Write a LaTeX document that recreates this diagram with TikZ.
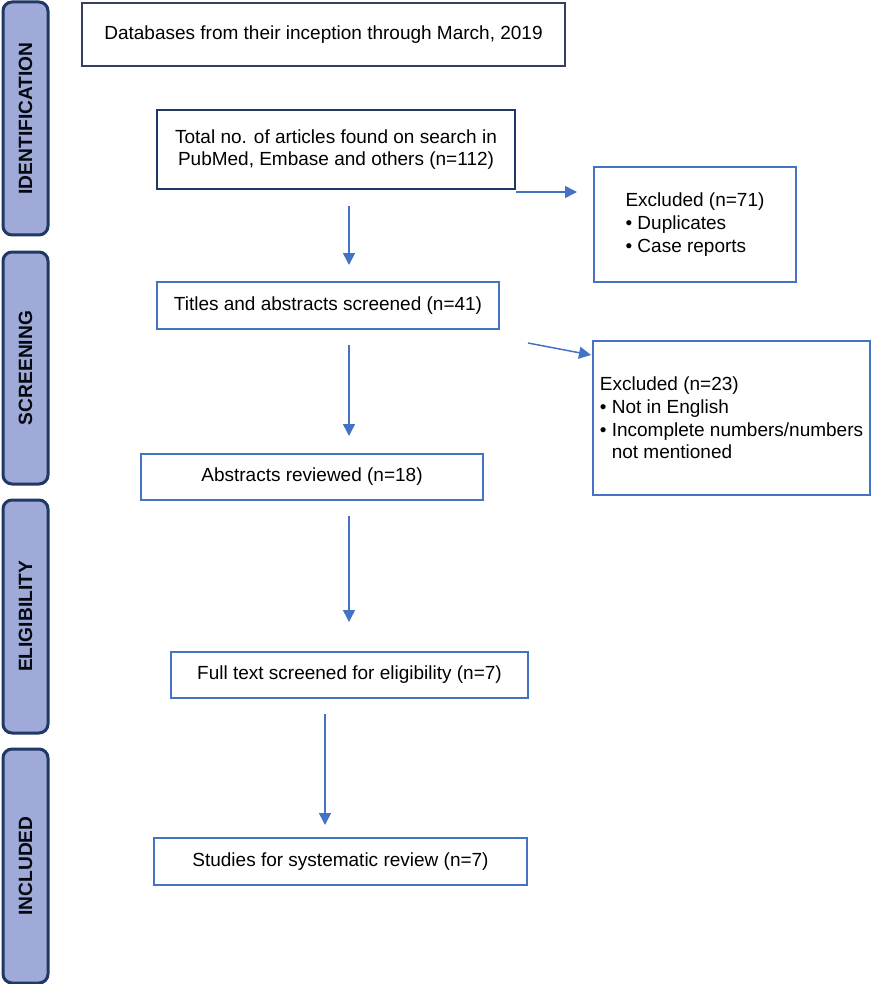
\documentclass[tikz,border=0pt]{standalone}
\usepackage{fontspec}
\setmainfont{Liberation Sans}
\usetikzlibrary{arrows.meta}
\definecolor{navy}{HTML}{203864}
\definecolor{slate}{HTML}{34405E}
\definecolor{linkblue}{HTML}{4472C4}
\definecolor{barfill}{HTML}{9FAAD9}
\begin{document}
\begin{tikzpicture}[x=0.5pt,y=-0.5pt,
  every node/.style={font=\fontsize{9.5}{11.3}\selectfont, inner sep=0pt},
  phase/.style={draw=navy, fill=barfill, line width=1.5pt, rounded corners=4.5pt, rotate=90, minimum height=22.5pt, font=\fontsize{9.6}{11.3}\selectfont\bfseries, text=black!85!navy},
  box/.style={draw=linkblue, line width=1pt, align=center},
  arr/.style={draw=linkblue, line width=0.75pt, -{Triangle[length=6pt,width=6pt]}}]
\useasboundingbox (0,0) rectangle (871,984);
\node[phase, minimum width=116.5pt] (ident) at (25.5,118.5) {IDENTIFICATION};
\node[phase, minimum width=116pt] (screen) at (25.5,368) {SCREENING};
\node[phase, minimum width=116.5pt] (elig) at (25.5,616.5) {ELIGIBILITY};
\node[phase, minimum width=117pt] (incl) at (25.5,866) {INCLUDED};
\node[box, draw=slate, line width=0.8pt, minimum width=241.5pt, minimum height=31.5pt] (dbase) at (323.5,34.5) {Databases from their inception through March, 2019};
\node[box, draw=navy, minimum width=179pt, minimum height=39.5pt] (total) at (336,149.5) {Total no. of articles found on search in\\PubMed, Embase and others (n=112)};
\node[box, align=left, minimum width=101pt, minimum height=57.5pt] (excla) at (695,224.5) {Excluded (n=71)\\\textbullet{} Duplicates\\\textbullet{} Case reports};
\node[box, minimum width=171pt, minimum height=23.5pt] (titles) at (328,305.5) {Titles and abstracts screened (n=41)};
\node[box, align=left, minimum width=138.5pt, minimum height=77pt] (exclb) at (731.5,418) {Excluded (n=23)\\\textbullet{} Not in English\\\textbullet{} Incomplete numbers/numbers\\\phantom{\textbullet{} }not mentioned};
\node[box, minimum width=171pt, minimum height=23pt] (abstr) at (312,477) {Abstracts reviewed (n=18)};
\node[box, minimum width=178.5pt, minimum height=23pt] (fulltxt) at (349.5,675) {Full text screened for eligibility (n=7)};
\node[box, minimum width=186.5pt, minimum height=23.5pt] (studies) at (340.5,861.5) {Studies for systematic review (n=7)};
\coordinate (spine) at (349,0);
\coordinate (spinb) at (325,0);
\coordinate (forkb) at (528,343);
\draw[arr, shorten <=8pt, shorten >=8pt] (total.south -| spine) -- (titles.north -| spine);
\draw[arr, shorten <=7.5pt, shorten >=8.5pt] (titles.south -| spine) -- (abstr.north -| spine);
\draw[arr, shorten <=7.5pt, shorten >=14.5pt] (abstr.south -| spine) -- (fulltxt.north -| spine);
\draw[arr, shorten <=7.5pt, shorten >=6pt] (fulltxt.south -| spinb) -- (studies.north -| spinb);
\draw[arr, shorten >=8pt] ([yshift=-1pt]total.south east) -- ([yshift=-1pt]excla.west |- total.south east);
\draw[arr] (forkb) -- ([yshift=-7.5pt,xshift=-0.5pt]exclb.north west);
\end{tikzpicture}
\end{document}
